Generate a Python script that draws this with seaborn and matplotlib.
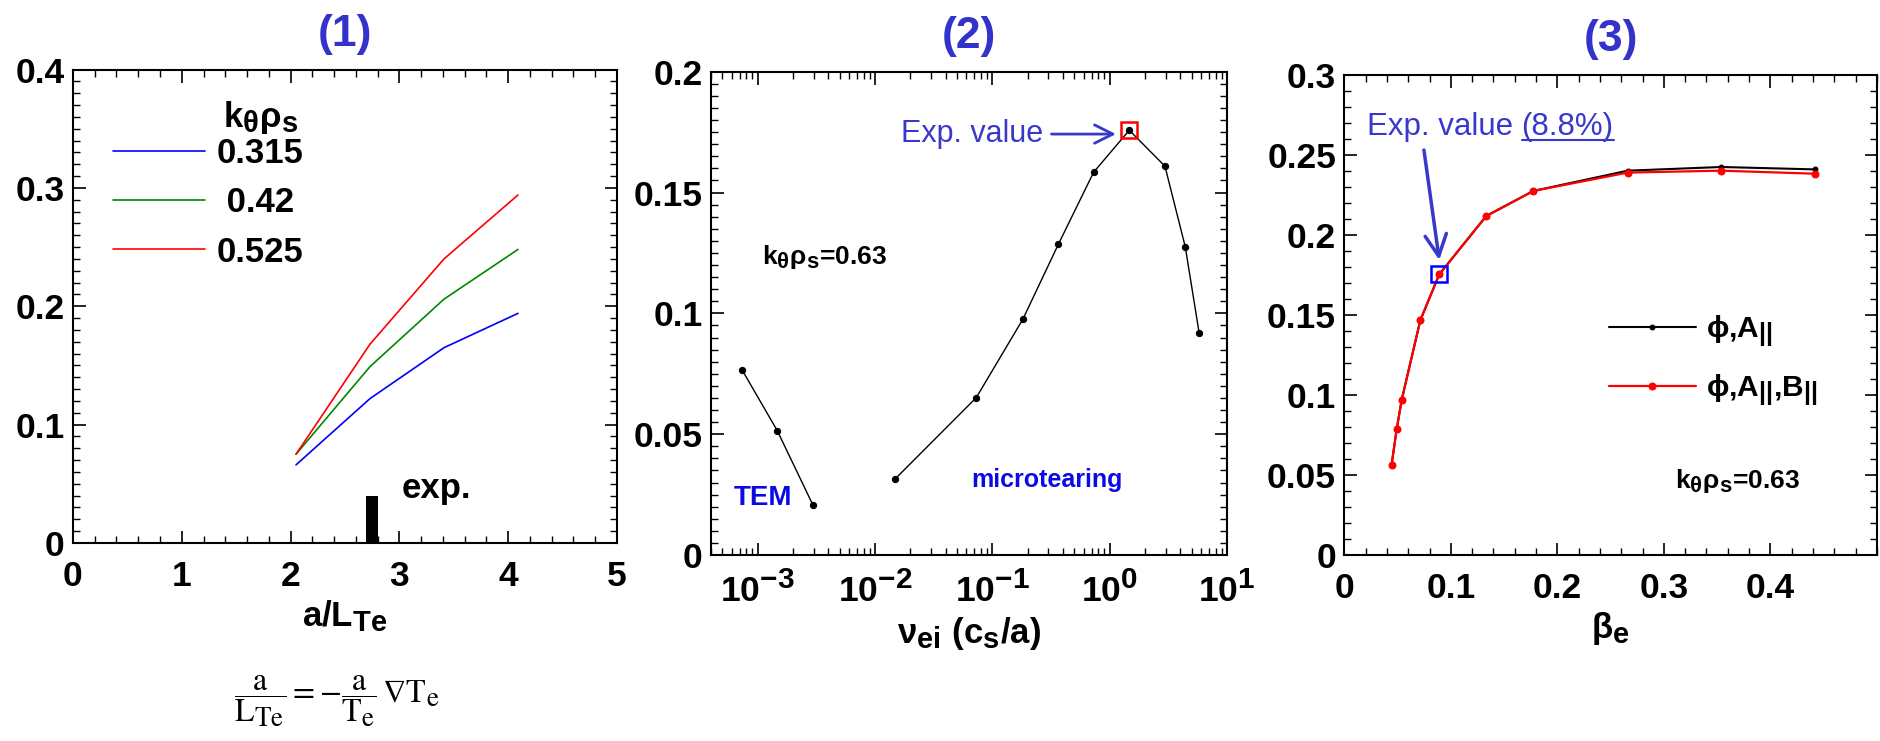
import numpy as np
import pandas as pd
import matplotlib
matplotlib.use("Agg")
import matplotlib.pyplot as plt
import matplotlib._mathtext as _mt
import seaborn as sns
from matplotlib.ticker import MultipleLocator, FuncFormatter, LogLocator, NullFormatter, FixedLocator
from matplotlib.lines import Line2D

# larger sub/superscripts, closer to the reference lettering
_mt.SHRINK_FACTOR = 0.84

# ---------------- data ----------------
# panel (1): growth rate vs a/L_Te for three k_theta rho_s
p1_aLTe = [2.05, 2.73, 3.41, 4.09]
p1_k_labels = ["0.315", " 0.42", "0.525"]
p1_gamma_0315 = [0.066, 0.122, 0.165, 0.194]
p1_gamma_042 = [0.075, 0.149, 0.206, 0.248]
p1_gamma_0525 = [0.075, 0.168, 0.240, 0.294]
p1_exp_aLTe = 2.745
p1_exp_width = 0.11
p1_exp_height = 0.04

# panel (2): growth rate vs collisionality
p2_tem_nu = [7.4e-4, 1.47e-3, 2.96e-3]
p2_tem_gamma = [0.0764, 0.0514, 0.0206]
p2_mt_nu = [0.0147, 0.0728, 0.1815, 0.365, 0.729, 1.468, 2.955, 4.40, 5.79]
p2_mt_gamma = [0.0313, 0.0651, 0.0975, 0.1286, 0.1584, 0.1758, 0.1609, 0.1276, 0.0917]
p2_exp_index = 5

# panel (3): growth rate vs beta_e
p3_beta = [0.0443, 0.0491, 0.0538, 0.0713, 0.0891, 0.1333, 0.1774, 0.266, 0.354, 0.442]
p3_gamma_phiA = [0.0562, 0.0786, 0.0969, 0.1467, 0.1754, 0.2119, 0.2275, 0.2402, 0.2425, 0.2410]
p3_gamma_phiAB = [0.0562, 0.0786, 0.0969, 0.1467, 0.1754, 0.2119, 0.2275, 0.2390, 0.2402, 0.2383]
p3_exp_index = 4

# ---------------- style ----------------
sns.set_theme(style="ticks")
plt.rcParams.update({
    "font.family": ["Liberation Sans", "DejaVu Sans"],
    "font.weight": "normal",
    "axes.labelweight": "bold",
    "axes.titleweight": "bold",
    "mathtext.fontset": "custom",
    "mathtext.rm": "Liberation Sans:bold",
    "mathtext.it": "Liberation Sans:bold",
    "mathtext.bf": "Liberation Sans:bold",
    "mathtext.sf": "Liberation Sans:bold",
    "mathtext.default": "rm",
    "axes.unicode_minus": False,
    "axes.linewidth": 1.5,
    "axes.edgecolor": "black",
    "axes.labelcolor": "black",
    "text.color": "black",
    "xtick.color": "black",
    "ytick.color": "black",
    "xtick.direction": "in",
    "ytick.direction": "in",
    "xtick.top": True,
    "ytick.right": True,
    "xtick.major.size": 9,
    "ytick.major.size": 9,
    "xtick.minor.size": 5,
    "ytick.minor.size": 5,
    "xtick.major.width": 1.2,
    "ytick.major.width": 1.2,
    "xtick.minor.width": 1.0,
    "ytick.minor.width": 1.0,
    "xtick.labelsize": 25.5,
    "ytick.labelsize": 25.5,
    "axes.labelsize": 25,
    "xtick.major.pad": 12,
    "ytick.major.pad": 6,
})

TITLE_C = "#3333cc"
EXP_C = "#3838cc"
MODE_C = "#0a0ae6"

fig = plt.figure(figsize=(18.8, 7.41), dpi=100)
ax1 = fig.add_axes([0.0388, 0.2672, 0.2894, 0.639])
ax2 = fig.add_axes([0.3782, 0.2510, 0.2745, 0.6522])
ax3 = fig.add_axes([0.7151, 0.2510, 0.2832, 0.6478])

fmt_g = FuncFormatter(lambda v, p: "%g" % round(v, 6))

# ---------------- panel 1 ----------------
p1_df = pd.DataFrame({
    "aLTe": p1_aLTe * 3,
    "gamma": p1_gamma_0315 + p1_gamma_042 + p1_gamma_0525,
    "k": [p1_k_labels[0]] * 4 + [p1_k_labels[1]] * 4 + [p1_k_labels[2]] * 4,
})
sns.lineplot(data=p1_df, x="aLTe", y="gamma", hue="k", hue_order=p1_k_labels,
             palette=["#0000ff", "#008800", "#ff0000"], linewidth=1.2, ax=ax1, legend=True)
ax1.bar([p1_exp_aLTe], [p1_exp_height], width=p1_exp_width, color="black",
        edgecolor="black", linewidth=0, zorder=3)
ax1.text(3.02, 0.038, "exp.", fontsize=25, fontweight="bold", ha="left", va="baseline")
ax1.set_xlim(0, 5)
ax1.set_ylim(0, 0.4)
ax1.xaxis.set_major_locator(MultipleLocator(1))
ax1.xaxis.set_minor_locator(MultipleLocator(0.2))
ax1.yaxis.set_major_locator(MultipleLocator(0.1))
ax1.yaxis.set_minor_locator(MultipleLocator(0.01))
ax1.xaxis.set_major_formatter(fmt_g)
ax1.yaxis.set_major_formatter(fmt_g)
ax1.set_xlabel(r"a/L$_{Te}$", labelpad=4)
ax1.set_ylabel("")
h1, l1 = ax1.get_legend_handles_labels()
ax1.legend(h1, l1, loc="center left",
           bbox_to_anchor=(0.0735, 0.7187), frameon=False,
           prop={"size": 25, "weight": "bold"},
           handlelength=2.65, handletextpad=0.35,
           labelspacing=0.47, borderpad=0, borderaxespad=0)
ax1.text(0.4136, 0.8976, r"$k_{\theta}\rho_s$", transform=ax1.transAxes,
         fontsize=25, fontweight="bold", ha="right", va="center")
ax1.set_title("(1)", color=TITLE_C, fontsize=32, pad=17)

# ---------------- panel 2 ----------------
sns.lineplot(x=p2_tem_nu, y=p2_tem_gamma, ax=ax2, color="black", linewidth=1.0,
             marker="o", markersize=4.5, markeredgecolor="black")
sns.lineplot(x=p2_mt_nu, y=p2_mt_gamma, ax=ax2, color="black", linewidth=1.0,
             marker="o", markersize=4.5, markeredgecolor="black")
ax2.plot([p2_mt_nu[p2_exp_index]], [p2_mt_gamma[p2_exp_index]], marker="s",
         markersize=11, markerfacecolor="none", markeredgecolor="red",
         markeredgewidth=1.8, linestyle="none", zorder=4)
ax2.set_xscale("log")
ax2.set_xlim(4e-4, 10)
ax2.set_ylim(0, 0.2)
ax2.xaxis.set_major_locator(LogLocator(base=10, numticks=10))
ax2.xaxis.set_minor_locator(LogLocator(base=10, subs=np.arange(2, 10), numticks=20))
ax2.xaxis.set_minor_formatter(NullFormatter())
ax2.yaxis.set_major_locator(MultipleLocator(0.05))
ax2.yaxis.set_minor_locator(MultipleLocator(0.005))
ax2.yaxis.set_major_formatter(fmt_g)
ax2.set_xlabel(r"$\nu_{ei}$ (c$_s$/a)", labelpad=4)
ax2.set_ylabel("")
ax2.annotate("Exp. value", xy=(1.13, 0.1742), xytext=(0.0165, 0.1742),
             fontsize=22, fontweight="normal", color=EXP_C, ha="left", va="center",
             arrowprops=dict(arrowstyle="->,head_length=0.6,head_width=0.3",
                             color=EXP_C, lw=2, mutation_scale=22,
                             shrinkA=4, shrinkB=0))
ax2.text(1.083e-3, 0.1204, r"$k_{\theta}\rho_s$=0.63", fontsize=19,
         fontweight="bold", ha="left", va="baseline")
ax2.text(6.26e-4, 0.0207, "TEM", fontsize=20, fontweight="bold", color=MODE_C,
         ha="left", va="baseline")
ax2.text(0.0665, 0.0283, "microtearing", fontsize=18, fontweight="bold",
         color=MODE_C, ha="left", va="baseline")
ax2.set_title("(2)", color=TITLE_C, fontsize=32, pad=17)

# ---------------- panel 3 ----------------
sns.lineplot(x=p3_beta, y=p3_gamma_phiA, ax=ax3, color="black", linewidth=1.5,
             marker="o", markersize=3.5, markeredgecolor="black",
             label=r"$\phi$,A$_{||}$")
sns.lineplot(x=p3_beta, y=p3_gamma_phiAB, ax=ax3, color="#ff0000", linewidth=1.6,
             marker="o", markersize=5, markeredgecolor="#ff0000",
             label=r"$\phi$,A$_{||}$,B$_{||}$")
ax3.plot([p3_beta[p3_exp_index]], [p3_gamma_phiAB[p3_exp_index]], marker="s",
         markersize=11, markerfacecolor="none", markeredgecolor="#0000ff",
         markeredgewidth=1.8, linestyle="none", zorder=4)
ax3.set_xlim(0, 0.5)
ax3.set_ylim(0, 0.3)
ax3.xaxis.set_major_locator(FixedLocator([0, 0.1, 0.2, 0.3, 0.4]))
ax3.xaxis.set_minor_locator(MultipleLocator(0.02))
ax3.yaxis.set_major_locator(MultipleLocator(0.05))
ax3.yaxis.set_minor_locator(MultipleLocator(0.01))
ax3.xaxis.set_major_formatter(fmt_g)
ax3.yaxis.set_major_formatter(fmt_g)
ax3.set_xlabel(r"$\beta_e$", labelpad=4)
ax3.set_ylabel("")
h3, l3 = ax3.get_legend_handles_labels()
ax3.legend(h3, l3, loc="center left", bbox_to_anchor=(0.497, 0.404),
           frameon=False, prop={"size": 21.5, "weight": "bold"},
           handlelength=2.9, handletextpad=0.35,
           labelspacing=0.78, borderpad=0, borderaxespad=0, numpoints=1)
t_exp = ax3.text(0.0209, 0.2625, "Exp. value", fontsize=22.5, fontweight="normal",
                 color=EXP_C, ha="left", va="baseline")
t_pct = ax3.annotate("(8.8%)", xy=(1, 0), xycoords=t_exp, xytext=(6.3, 0),
                     textcoords="offset points", fontsize=22.5, fontweight="normal",
                     color=EXP_C, ha="left", va="bottom")
ax3.annotate("", xy=(0.0891, 0.1844), xytext=(0.0747, 0.2531),
             arrowprops=dict(arrowstyle="->,head_length=0.7,head_width=0.35",
                             color=EXP_C, lw=2.5, mutation_scale=22,
                             shrinkA=0, shrinkB=0))
ax3.text(0.3105, 0.0419, r"$k_{\theta}\rho_s$=0.63", fontsize=19,
         fontweight="bold", ha="left", va="baseline")
ax3.set_title("(3)", color=TITLE_C, fontsize=32, pad=17)

# bold tick labels
for ax in (ax1, ax2, ax3):
    for lab in ax.get_xticklabels() + ax.get_yticklabels():
        lab.set_fontweight("bold")

# formula under panel 1
fig.text(0.179, 0.053,
         r"$\dfrac{\mathrm{a}}{\mathrm{L_{Te}}}=-\dfrac{\mathrm{a}}{\mathrm{T_e}}\,\nabla\mathrm{T_e}$",
         math_fontfamily="stix", fontsize=23, fontweight="normal",
         ha="center", va="center")

# underline for "(8.8%)"
fig.canvas.draw()
bb = t_pct.get_window_extent()
inv = fig.transFigure.inverted()
(x0, y0) = inv.transform((bb.x0, bb.y0 + 1.5))
(x1, _) = inv.transform((bb.x1, bb.y0 + 1.5))
fig.add_artist(Line2D([x0, x1], [y0, y0], transform=fig.transFigure,
                      color=EXP_C, linewidth=1.5))

fig.savefig("out.png", dpi=100)
